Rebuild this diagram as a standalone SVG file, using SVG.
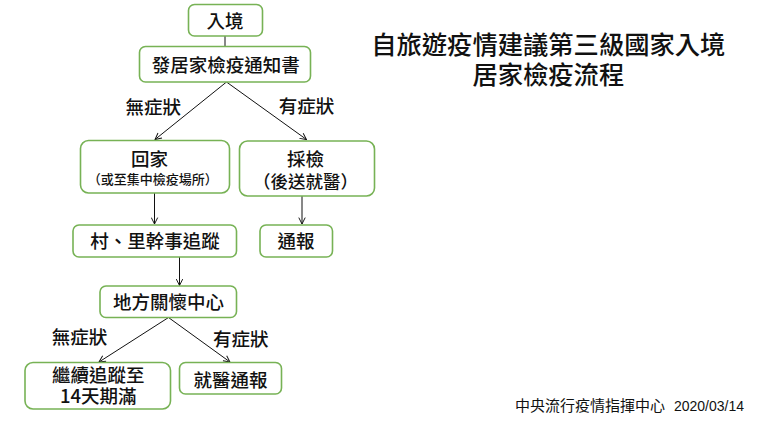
<svg xmlns="http://www.w3.org/2000/svg" width="760" height="428" viewBox="0 0 760 428">
<defs>
<style>
.box{fill:#fff;stroke:#77b255;stroke-width:1.6}
.t{font-family:"Noto Sans CJK TC","Noto Sans CJK SC",sans-serif;fill:#111;text-anchor:middle;font-weight:500}
.n{font-size:18.5px}
.s{font-size:13px}
.h1{font-size:25.3px}
.c{stroke:#111;stroke-width:1;fill:none;marker-end:url(#ah)}
.p{stroke:#111;stroke-width:1;fill:none}
</style>
<marker id="ah" viewBox="0 0 10 10" refX="9" refY="5" markerWidth="8" markerHeight="8" orient="auto" markerUnits="userSpaceOnUse">
<path d="M1,1 L9,5 L1,9" fill="none" stroke="#111" stroke-width="1.2"/>
</marker>
</defs>
<rect width="760" height="428" fill="#fff"/>
<g id="connectors">
<line class="p" x1="225" y1="36" x2="225" y2="46"/>
<line class="c" x1="226.5" y1="82" x2="155" y2="139.5"/>
<line class="c" x1="226.5" y1="82" x2="306.5" y2="139.5"/>
<line class="c" x1="154.5" y1="193" x2="154.5" y2="224"/>
<line class="c" x1="302" y1="196" x2="302" y2="224"/>
<line class="c" x1="179.5" y1="257" x2="179.5" y2="285.5"/>
<line class="c" x1="168.5" y1="317.5" x2="99" y2="362"/>
<line class="c" x1="168.5" y1="317.5" x2="230" y2="362"/>
<text class="t n" x="153.3" y="113.5">無症狀</text>
<text class="t n" x="306.5" y="113">有症狀</text>
<text class="t n" x="79.5" y="344.3">無症狀</text>
<text class="t n" x="240.8" y="346">有症狀</text>
</g>
<g id="entry">
<rect class="box" x="188.5" y="4.5" width="74" height="31.5" rx="6"/>
<text class="t n" x="225" y="28">入境</text>
</g>
<g id="notice">
<rect class="box" x="139.5" y="46.5" width="171" height="35.5" rx="6"/>
<text class="t n" x="225.8" y="71.5">發居家檢疫通知書</text>
</g>
<g id="home">
<rect class="box" x="80.5" y="140.5" width="149" height="52.5" rx="8"/>
<text class="t n" x="149.5" y="166">回家</text>
<text class="t s" x="152.8" y="184.2">（或至集中檢疫場所）</text>
</g>
<g id="test">
<rect class="box" x="239.5" y="141" width="135" height="55" rx="8"/>
<text class="t n" x="305.5" y="166">採檢</text>
<text class="t" x="305.5" y="187.5" style="font-size:17.5px">（後送就醫）</text>
</g>
<g id="village">
<rect class="box" x="73" y="225" width="163.5" height="32" rx="6"/>
<text class="t n" x="155" y="248">村、里幹事追蹤</text>
</g>
<g id="report1">
<rect class="box" x="260" y="225" width="72.5" height="32" rx="6"/>
<text class="t n" x="296" y="248">通報</text>
</g>
<g id="care">
<rect class="box" x="100" y="286" width="136.5" height="31.5" rx="6"/>
<text class="t n" x="168.5" y="309">地方關懷中心</text>
</g>
<g id="continue">
<rect class="box" x="25" y="362.5" width="145.5" height="46.5" rx="8"/>
<text class="t n" x="98.3" y="381.5">繼續追蹤至</text>
<text class="t n" x="98.3" y="402.6">14天期滿</text>
</g>
<g id="hospital">
<rect class="box" x="179.5" y="362.5" width="102" height="31.5" rx="6"/>
<text class="t n" x="230.5" y="387">就醫通報</text>
</g>
<g id="title">
<text class="t h1" x="548.3" y="54">自旅遊疫情建議第三級國家入境</text>
<text class="t h1" x="548.3" y="84">居家檢疫流程</text>
</g>
<g id="footer">
<text class="t" x="515" y="411" style="font-size:15px;text-anchor:start;font-weight:400">中央流行疫情指揮中心</text>
<text x="744" y="411" style="font-family:'Liberation Sans',sans-serif;font-size:14px;text-anchor:end;fill:#111">2020/03/14</text>
</g>
</svg>
